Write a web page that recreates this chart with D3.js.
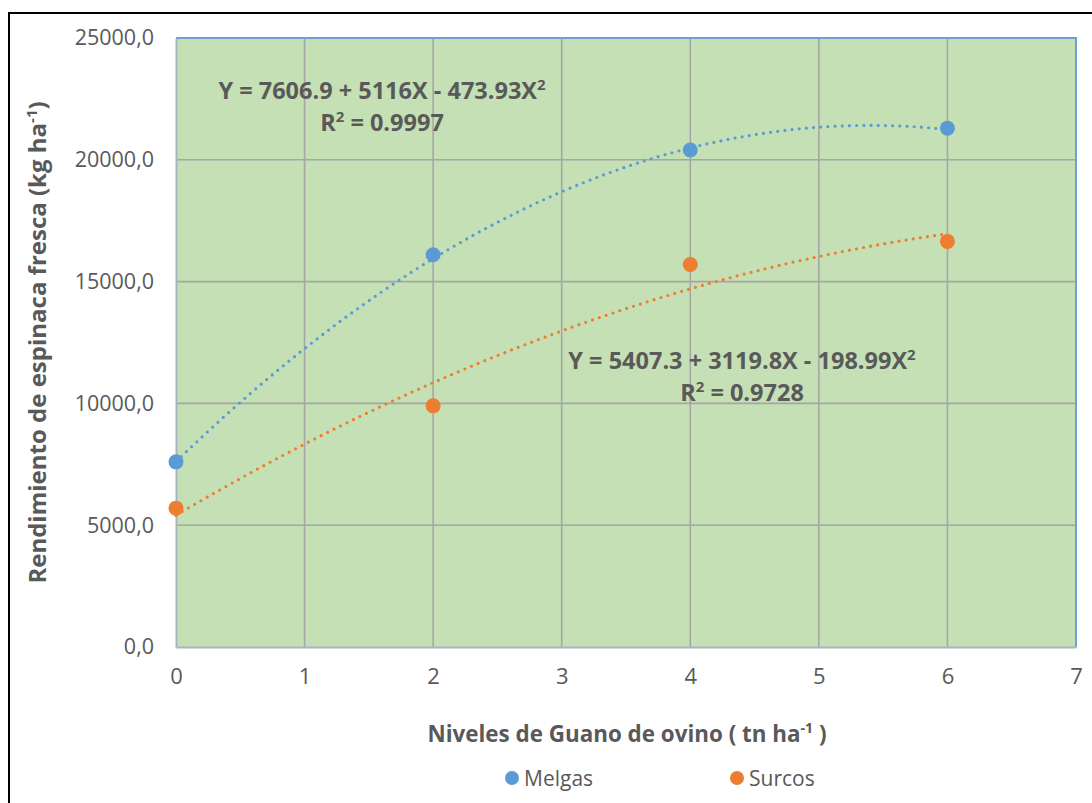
<!DOCTYPE html>
<html>
<head>
<meta charset="utf-8">
<script src="https://cdn.jsdelivr.net/npm/d3@7"></script>
<style>
  html, body { margin: 0; padding: 0; background: #ffffff; }
  svg { display: block; }
  text { font-family: "Open Sans", Lato, "DejaVu Sans", sans-serif; fill: #595959; }
</style>
</head>
<body>
<svg id="chart" width="1092" height="803"></svg>
<script>
// Guano levels (tn/ha) and measured fresh spinach yield (kg/ha)
const levels = [0, 2, 4, 6];
const melgas = [7600, 16100, 20400, 21300];
const surcos = [5700, 9900, 15700, 16650];

// Quadratic trend coefficients [a, b, c] for Y = a + bX + cX^2
const melgasFit = [7606.9, 5116, -473.93];
const surcosFit = [5407.3, 3119.8, -198.99];
const melgasR2 = "0.9997";
const surcosR2 = "0.9728";

const xTicks = [0, 1, 2, 3, 4, 5, 6, 7];
const yTicks = [0, 5000, 10000, 15000, 20000, 25000];
const seriesNames = ["Melgas", "Surcos"];
const seriesColors = ["#5B9BD5", "#ED7D31"];

const svg = d3.select("#chart");
const W = 1092, H = 803;
const plot = { left: 176, right: 1076, top: 38, bottom: 647 };

const x = d3.scaleLinear().domain([0, 7]).range([plot.left, plot.right]);
const y = d3.scaleLinear().domain([0, 25000]).range([plot.bottom, plot.top]);

// outer chart frame
svg.append("rect")
  .attr("x", 9).attr("y", 13).attr("width", W + 10).attr("height", H + 10)
  .attr("fill", "none").attr("stroke", "#000").attr("stroke-width", 2);

// plot area background
svg.append("rect")
  .attr("x", plot.left).attr("y", plot.top)
  .attr("width", plot.right - plot.left).attr("height", plot.bottom - plot.top)
  .attr("fill", "#C5E0B4");

// gridlines
const grid = svg.append("g").attr("stroke", "#A6A6A6").attr("stroke-width", 1.6);
grid.selectAll("line.v").data(xTicks.slice(1, -1)).join("line")
  .attr("x1", d => x(d)).attr("x2", d => x(d))
  .attr("y1", plot.top).attr("y2", plot.bottom);
grid.selectAll("line.h").data(yTicks.slice(1, -1)).join("line")
  .attr("x1", plot.left).attr("x2", plot.right)
  .attr("y1", d => y(d)).attr("y2", d => y(d));

// plot area border (top/right) and axis lines
svg.append("path")
  .attr("d", `M${plot.left},${plot.top}H${plot.right}V${plot.bottom}`)
  .attr("fill", "none").attr("stroke", "#6FA0D3").attr("stroke-width", 2);

const xAxis = d3.axisBottom(x).tickValues(xTicks).tickSize(0).tickPadding(21)
  .tickFormat(d3.format("d"));
const gx = svg.append("g").attr("transform", `translate(0,${plot.bottom})`).call(xAxis);
gx.select(".domain").attr("stroke", "#A9B4C2").attr("stroke-width", 2);
gx.selectAll(".tick text").style("font-size", "22px").attr("fill", "#595959");

const yFmt = d => d3.format(".1f")(d).replace(".", ",");
const yAxis = d3.axisLeft(y).tickValues(yTicks).tickSize(0).tickPadding(22).tickFormat(yFmt);
const gy = svg.append("g").attr("transform", `translate(${plot.left},0)`).call(yAxis);
gy.select(".domain").attr("stroke", "#A9B4C2").attr("stroke-width", 2);
gy.selectAll(".tick text").style("font-size", "21.5px").attr("fill", "#595959");

// axis titles
const xTitle = svg.append("text")
  .attr("x", (plot.left + plot.right) / 2 + 1).attr("y", 742)
  .attr("text-anchor", "middle")
  .style("font-size", "22.4px").style("font-weight", "bold");
xTitle.append("tspan").text("Niveles de Guano de ovino ( tn ha");
xTitle.append("tspan").attr("dy", -9).style("font-size", "14px").text("-1");
xTitle.append("tspan").attr("dy", 9).text(" )");

const yTitle = svg.append("text")
  .attr("transform", `translate(46,${(plot.top + plot.bottom) / 2}) rotate(-90)`)
  .attr("text-anchor", "middle")
  .style("font-size", "24px").style("font-weight", "bold");
yTitle.append("tspan").text("Rendimiento de espinaca fresca (kg ha");
yTitle.append("tspan").attr("dy", -9).style("font-size", "15px").text("-1");
yTitle.append("tspan").attr("dy", 9).text(")");

// dotted polynomial trend lines
const fitFn = c => v => c[0] + c[1] * v + c[2] * v * v;
const trendX = d3.range(0, 6.0001, 0.05);
const line = d3.line().x(d => x(d[0])).y(d => y(d[1])).curve(d3.curveLinear);
[melgasFit, surcosFit].forEach((c, i) => {
  const f = fitFn(c);
  svg.append("path")
    .datum(trendX.map(v => [v, f(v)]))
    .attr("d", line)
    .attr("fill", "none")
    .attr("stroke", seriesColors[i])
    .attr("stroke-width", 3.2)
    .attr("stroke-linecap", "round")
    .attr("stroke-dasharray", "0,7.2");
});

// data markers
[melgas, surcos].forEach((vals, i) => {
  svg.append("g").selectAll("circle").data(vals).join("circle")
    .attr("cx", (d, j) => x(levels[j]))
    .attr("cy", d => y(d))
    .attr("r", 7.5)
    .attr("fill", seriesColors[i]);
});

// trend equations
function equation(cx, baseY, c, r2) {
  const g = svg.append("g");
  const t = g.append("text").attr("x", cx).attr("y", baseY)
    .attr("text-anchor", "middle")
    .style("font-size", "23.5px").style("font-weight", "bold");
  t.append("tspan").text(`Y = ${c[0]} + ${c[1]}X - ${Math.abs(c[2])}X`);
  t.append("tspan").attr("dy", -9).style("font-size", "15px").text("2");
  const t2 = g.append("text").attr("x", cx).attr("y", baseY + 32)
    .attr("text-anchor", "middle")
    .style("font-size", "23.5px").style("font-weight", "bold");
  t2.append("tspan").text("R");
  t2.append("tspan").attr("dy", -9).style("font-size", "15px").text("2");
  t2.append("tspan").attr("dy", 9).text(` = ${r2}`);
}
equation(382, 99, melgasFit, melgasR2);
equation(742, 369, surcosFit, surcosR2);

// legend
const legendX = [512, 737];
seriesNames.forEach((name, i) => {
  const g = svg.append("g").attr("transform", `translate(${legendX[i]},778)`);
  g.append("circle").attr("r", 7).attr("fill", seriesColors[i]);
  g.append("text").attr("x", 12).attr("y", 7.5)
    .style("font-size", "21px").text(name);
});
</script>
</body>
</html>
